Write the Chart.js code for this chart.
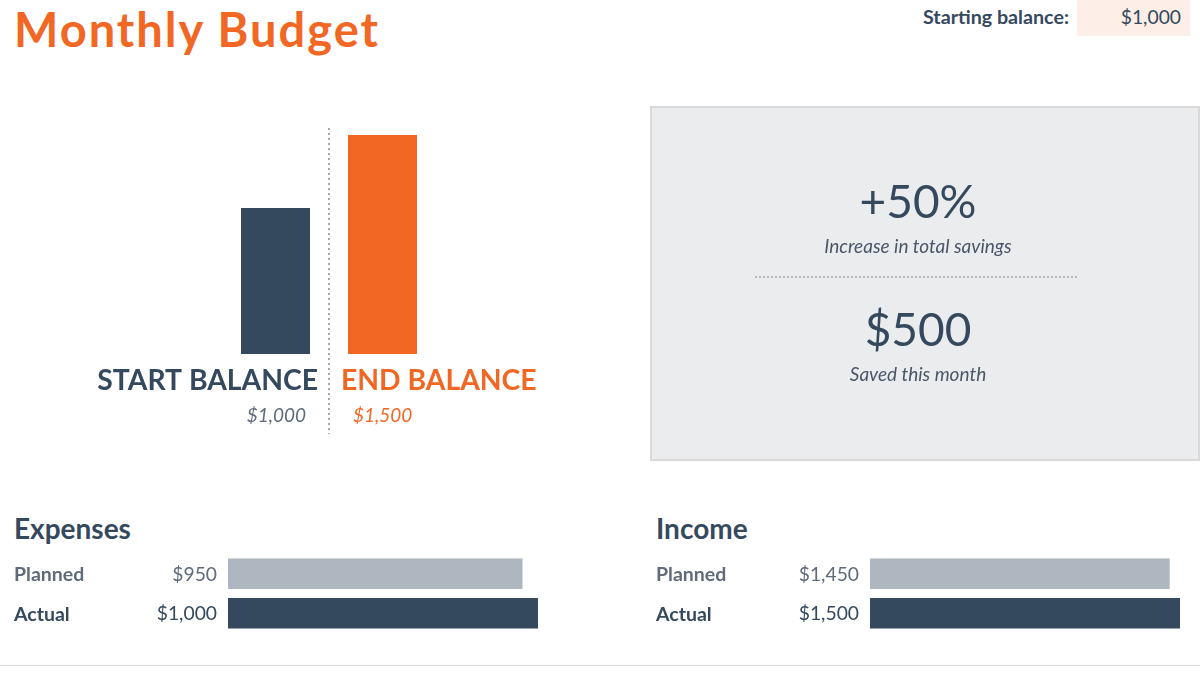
<!DOCTYPE html>
<html>
<head>
<meta charset="utf-8">
<script src="https://cdn.jsdelivr.net/npm/chart.js@4/dist/chart.umd.min.js"></script>
<style>
  body { margin: 0; width: 1200px; height: 675px; background: #fff; position: relative; overflow: hidden; font-family: Lato, sans-serif; color: #34495e; }
  .abs { position: absolute; }
  #title { left: 14px; top: 1px; font-size: 47px; font-weight: 700; color: #f26724; letter-spacing: 2px; }
  #startLbl { right: 131px; top: 5px; font-size: 19.7px; font-weight: 700; }
  #startBox { left: 1077px; top: 0; width: 113px; height: 36px; background: #fdefe8; }
  #startVal { right: 19px; top: 5px; font-size: 19.3px; }
  #box { left: 650px; top: 106px; width: 546px; height: 351px; background: #ebecee; border: 2px solid #d9d9d9; }
  .big { width: 540px; text-align: center; font-size: 46px; left: 648px; }
  .sub { width: 540px; text-align: center; font-size: 19px; font-style: italic; color: #4a5668; left: 648px; }
  #dots { left: 755px; top: 276px; width: 322px; border-top: 2px dotted #b5b8bc; }
  .head { font-size: 28px; font-weight: 700; top: 511px; }
  #rule { left: 0; top: 665px; width: 1200px; border-top: 1px solid #dcdcdc; }
  canvas { position: absolute; }
</style>
</head>
<body>
<div id="title" class="abs">Monthly Budget</div>
<div id="startLbl" class="abs">Starting balance:</div>
<div id="startBox" class="abs"></div>
<div id="startVal" class="abs">$1,000</div>

<canvas id="balanceChart" width="650" height="360" style="left:0;top:100px"></canvas>

<div id="box" class="abs"></div>
<div class="abs big" style="top:173px">+50%</div>
<div class="abs sub" style="top:234px">Increase in total savings</div>
<div id="dots" class="abs"></div>
<div class="abs big" style="top:301px">$500</div>
<div class="abs sub" style="top:362px">Saved this month</div>

<div class="abs head" style="left:14px">Expenses</div>
<div class="abs head" style="left:656px">Income</div>
<canvas id="expChart" width="560" height="150" style="left:0;top:500px"></canvas>
<canvas id="incChart" width="560" height="150" style="left:642px;top:500px"></canvas>
<div id="rule" class="abs"></div>

<script>
const balanceLabels = ["START BALANCE", "END BALANCE"];
const balanceValues = [1000, 1500];
const balanceColors = ["#34495e", "#f26724"];

const rowLabels = ["Planned", "Actual"];
const expenseValues = [950, 1000];
const incomeValues = [1450, 1500];
const rowColors = ["#aeb6bf", "#34495e"];
const rowTextColors = ["#5f6b7a", "#34495e"];

const money = (v) => "$" + v.toLocaleString("en-US");

// labels, values and divider for the start/end bars
const balanceDecor = {
  id: "balanceDecor",
  afterDatasetsDraw(chart) {
    const c = chart.ctx;
    const x = chart.scales.x;
    const mid = (x.getPixelForValue(0) + x.getPixelForValue(1)) / 2;
    c.save();
    c.strokeStyle = "#a9a9a9";
    c.lineWidth = 2;
    c.setLineDash([2, 3]);
    c.beginPath();
    c.moveTo(mid, 28);
    c.lineTo(mid, 334);
    c.stroke();
    c.setLineDash([]);
    c.textBaseline = "alphabetic";
    c.font = "bold 28.3px Lato";
    c.fillStyle = balanceColors[0];
    c.textAlign = "right";
    c.fillText(balanceLabels[0], mid - 11, 290);
    c.fillStyle = balanceColors[1];
    c.textAlign = "left";
    c.fillText(balanceLabels[1], mid + 12, 290);
    c.font = "italic 19px Lato";
    c.fillStyle = "#5f6b7a";
    c.textAlign = "right";
    c.fillText(money(balanceValues[0]), mid - 23, 322);
    c.fillStyle = balanceColors[1];
    c.textAlign = "left";
    c.fillText(money(balanceValues[1]), mid + 24, 322);
    c.restore();
  },
};

new Chart(document.getElementById("balanceChart"), {
  type: "bar",
  data: {
    labels: balanceLabels,
    datasets: [{
      data: balanceValues,
      backgroundColor: balanceColors,
      barPercentage: 0.645,
      categoryPercentage: 1,
    }],
  },
  options: {
    responsive: false,
    animation: false,
    devicePixelRatio: 1,
    layout: { padding: { left: 222, right: 214, top: 35, bottom: 106 } },
    plugins: { legend: { display: false }, tooltip: { enabled: false } },
    scales: {
      x: { display: false },
      y: { display: false, min: 0, max: 1500 },
    },
  },
  plugins: [balanceDecor],
});

// row names on the left, amounts right-aligned next to the bars
const rowDecor = {
  id: "rowDecor",
  afterDatasetsDraw(chart) {
    const c = chart.ctx;
    const y = chart.scales.y;
    const vals = chart.data.datasets[0].data;
    c.save();
    c.textBaseline = "middle";
    rowLabels.forEach((lbl, i) => {
      const py = y.getPixelForValue(i) + 1;
      c.fillStyle = rowTextColors[i];
      c.font = "bold 19.5px Lato";
      c.textAlign = "left";
      c.fillText(lbl, 14, py);
      c.font = "19.3px Lato";
      c.textAlign = "right";
      c.fillText(money(vals[i]), chart.chartArea.left - 11, py);
    });
    c.restore();
  },
};

function rowChart(id, values) {
  return new Chart(document.getElementById(id), {
    type: "bar",
    data: {
      labels: rowLabels,
      datasets: [{
        data: values,
        backgroundColor: rowColors,
        barPercentage: 0.77,
        categoryPercentage: 1,
      }],
    },
    options: {
      indexAxis: "y",
      responsive: false,
      animation: false,
      devicePixelRatio: 1,
      layout: { padding: { left: 228, right: 22, top: 54, bottom: 17 } },
      plugins: { legend: { display: false }, tooltip: { enabled: false } },
      scales: {
        x: { display: false, min: 0, max: Math.max(...values) },
        y: { display: false },
      },
    },
    plugins: [rowDecor],
  });
}

rowChart("expChart", expenseValues);
rowChart("incChart", incomeValues);
</script>
</body>
</html>
